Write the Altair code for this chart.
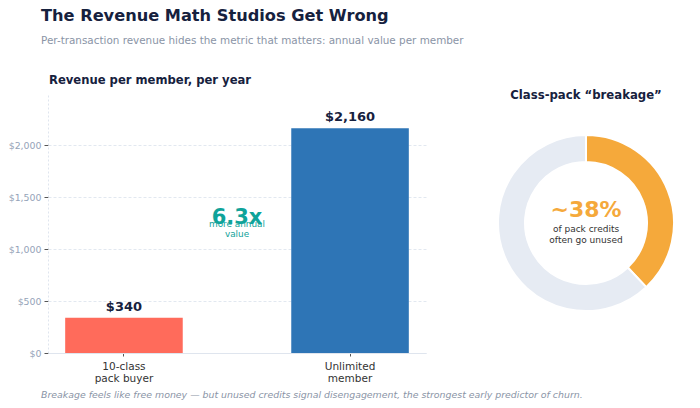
import altair as alt
import pandas as pd

# Annual revenue per member type
segments = ["10-class\npack buyer", "Unlimited\nmember"]
annual_revenue = [340, 2160]
value_labels = ["$340", "$2,160"]
bar_colors = ["#ff6b5b", "#2e75b6"]

# Share of class-pack credits left unused
credit_status = ["Unused", "Used"]
credit_share = [38, 62]
ring_colors = ["#f5a93b", "#e6ebf3"]

y_ticks = [0, 500, 1000, 1500, 2000]
y_domain = [0, 2500]
multiple_text = "6.3x"
multiple_note = "more annual\nvalue"
breakage_text = "~38%"
breakage_note = "of pack credits\noften go unused"
footnote = ("Breakage feels like free money \u2014 but unused credits signal "
            "disengagement, the strongest early predictor of churn.")

FONT = "DejaVu Sans"
NAVY = "#16213e"
GRAY = "#8a94a6"
TEAL = "#0fa39a"

BAR_W, BAR_H = 378, 260
RING_W, RING_H = 200, 260

bars_df = pd.DataFrame({
    "segment": segments,
    "revenue": annual_revenue,
    "label": value_labels,
    "color": bar_colors,
})

y_scale = alt.Scale(domain=y_domain, nice=False, zero=True)

x_enc = alt.X(
    "segment:N",
    sort=segments,
    title=None,
    scale=alt.Scale(paddingInner=0.48, paddingOuter=0.076),
    axis=alt.Axis(
        labelExpr="split(datum.label, '\\n')",
        labelAngle=0,
        labelFontSize=10.5,
        labelColor="#333333",
        labelPadding=5,
        labelLineHeight=12,
        tickColor="#555555",
        tickSize=3,
        domainColor="#dfe5ee",
        grid=False,
    ),
)
y_enc = alt.Y(
    "revenue:Q",
    title=None,
    scale=y_scale,
    axis=alt.Axis(
        values=y_ticks,
        format="$,.0f",
        labelFontSize=9.4,
        labelColor="#94a3b8",
        tickColor="#555555",
        tickSize=4,
        labelPadding=3,
        domainColor="#dfe5ee",
        domainDash=[2, 2],
        gridColor="#e2e8f0",
        gridDash=[3, 2],
    ),
)

bar_base = alt.Chart(bars_df)
bars = bar_base.mark_bar().encode(
    x=x_enc,
    y=y_enc,
    color=alt.Color("color:N", scale=None),
)
bar_values = bar_base.mark_text(
    font=FONT, fontSize=13, fontWeight="bold", color=NAVY, baseline="bottom", dy=-4
).encode(
    x=alt.X("segment:N", sort=segments),
    y=alt.Y("revenue:Q", scale=y_scale),
    text="label:N",
)

ann_df = pd.DataFrame({"big": [multiple_text], "small": [multiple_note], "ybig": [1300], "ysmall": [1240]})
ann_big = alt.Chart(ann_df).mark_text(
    font=FONT, fontSize=21, fontWeight="bold", color=TEAL, baseline="middle"
).encode(x=alt.value(BAR_W / 2), y=alt.Y("ybig:Q", scale=y_scale), text="big:N")
ann_small = alt.Chart(ann_df).mark_text(
    font=FONT, fontSize=8.9, color=TEAL, baseline="middle", lineBreak="\n", lineHeight=10
).encode(x=alt.value(BAR_W / 2), y=alt.Y("ysmall:Q", scale=y_scale), text="small:N")

foot = alt.Chart(pd.DataFrame({"t": [footnote]})).mark_text(
    font=FONT, fontSize=9.4, fontStyle="italic", color=GRAY, align="left", baseline="middle"
).encode(x=alt.value(-7), y=alt.value(BAR_H + 42), text="t:N")

bar_chart = alt.layer(bars, bar_values, ann_big, ann_small, foot).properties(
    width=BAR_W,
    height=BAR_H,
    title=alt.TitleParams(
        "Revenue per member, per year",
        anchor="start", frame="group", font=FONT, fontSize=11.6,
        fontWeight="bold", color=NAVY, offset=6, dx=1,
    ),
)

ring_df = pd.DataFrame({"status": credit_status, "share": credit_share, "order": [0, 1]})
ring = alt.Chart(ring_df).mark_arc(
    innerRadius=61, outerRadius=88, stroke="white", strokeWidth=2
).encode(
    theta=alt.Theta("share:Q", stack=True),
    order=alt.Order("order:Q"),
    color=alt.Color("status:N", scale=alt.Scale(domain=credit_status, range=ring_colors), legend=None),
)
center_df = pd.DataFrame({"big": [breakage_text], "small": [breakage_note]})
ring_big = alt.Chart(center_df).mark_text(
    font=FONT, fontSize=22, fontWeight="bold", color="#f5a93b", baseline="middle"
).encode(x=alt.value(RING_W / 2), y=alt.value(RING_H / 2 - 13), text="big:N")
ring_small = alt.Chart(center_df).mark_text(
    font=FONT, fontSize=9, color="#333333", baseline="middle", lineBreak="\n", lineHeight=11
).encode(x=alt.value(RING_W / 2), y=alt.value(RING_H / 2 + 6), text="small:N")

ring_chart = alt.layer(ring, ring_big, ring_small).properties(
    width=RING_W,
    height=RING_H,
    title=alt.TitleParams(
        "Class-pack \u201cbreakage\u201d",
        anchor="middle", frame="group", font=FONT, fontSize=11.7,
        fontWeight="bold", color=NAVY, offset=-9,
    ),
)

chart = alt.hconcat(bar_chart, ring_chart, spacing=60, bounds="flush").properties(
    title=alt.TitleParams(
        "The Revenue Math Studios Get Wrong",
        subtitle="Per-transaction revenue hides the metric that matters: annual value per member",
        anchor="start", frame="group", font=FONT, fontSize=16.2, fontWeight="bold",
        color=NAVY, subtitleFont=FONT, subtitleFontSize=10.4, subtitleColor=GRAY,
        subtitlePadding=12, offset=29, dx=-7,
    ),
    padding={"left": 8, "top": 7, "right": 5, "bottom": 5},
).configure(font=FONT).configure_view(stroke=None)

chart.save("out.html", embed_options={"renderer": "svg", "actions": False})
